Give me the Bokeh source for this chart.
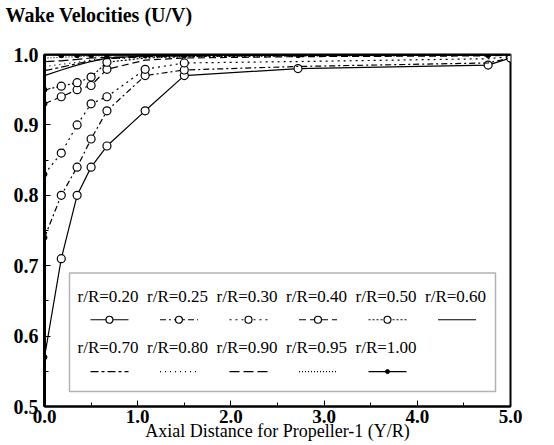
from bokeh.plotting import figure
from bokeh.models import Range1d, FixedTicker, BoxAnnotation, PrintfTickFormatter, LinearAxis
from bokeh.core.properties import value
from bokeh.embed import file_html
from bokeh.resources import INLINE

# ---- data ----
X = [0.0, 0.18, 0.35, 0.5, 0.67, 1.08, 1.5, 2.72, 4.76, 5.0]

u020 = [0.57, 0.71, 0.80, 0.84, 0.87, 0.92, 0.97, 0.98, 0.985, 0.995]
u025 = [0.74, 0.80, 0.84, 0.88, 0.92, 0.97, 0.978, 0.983, 0.988, 0.995]
u030 = [0.83, 0.86, 0.90, 0.93, 0.94, 0.979, 0.988, 0.99, 0.994, 0.997]
u040 = [0.93, 0.94, 0.95, 0.956, 0.979, 0.992, 0.995, 0.997, 0.998, 0.999]
u050 = [0.95, 0.955, 0.96, 0.968, 0.989, 0.995, 0.997, 0.998, 0.999, 1.0]
u060 = [0.97, 0.978, 0.985, 0.99, 0.995, 0.998, 0.999, 1.0, 1.0, 1.0]
u070 = [0.977, 0.982, 0.987, 0.991, 0.994, 0.997, 0.998, 0.999, 1.0, 1.0]
u080 = [0.983, 0.986, 0.989, 0.992, 0.994, 0.996, 0.997, 0.998, 0.999, 1.0]
u090 = [0.99, 0.991, 0.993, 0.995, 0.996, 0.997, 0.998, 0.999, 1.0, 1.0]
u095 = [0.995, 0.996, 0.997, 0.998, 0.998, 0.999, 0.999, 1.0, 1.0, 1.0]
u100 = [0.999, 0.999, 0.999, 0.999, 0.999, 0.999, 0.999, 0.999, 0.999, 0.999]

labels = ["r/R=0.20", "r/R=0.25", "r/R=0.30", "r/R=0.40", "r/R=0.50", "r/R=0.60",
          "r/R=0.70", "r/R=0.80", "r/R=0.90", "r/R=0.95", "r/R=1.00"]
values = [u020, u025, u030, u040, u050, u060, u070, u080, u090, u095, u100]

x_ticks = [0, 1, 2, 3, 4, 5]
y_ticks = [0.5, 0.6, 0.7, 0.8, 0.9, 1.0]

# ---- styles: (dash, marker kind, number of circle points) ----
styles = [
    ("solid", "circle", 10),
    ("6 3 2 3", "circle", 7),
    ("2 4", "circle", 7),
    ("7 4", "circle", 5),
    ("2 2", "circle", 5),
    ("solid", None, 0),
    ("8 3 3 3", None, 0),
    ("1 4", None, 0),
    ("10 4", None, 0),
    ("1 2", None, 0),
    ("solid", "dot", 9),
]

W, H = 540, 445
FL, FR, FT, FB = 44, 510, 53, 406  # frame in page px
p = figure(width=W, height=H, output_backend="svg", toolbar_location=None,
           x_range=Range1d(0, 5), y_range=Range1d(0.5, 1.0),
           min_border_left=FL, min_border_right=W - FR,
           min_border_top=FT, min_border_bottom=H - FB,
           title="Wake Velocities (U/V)")
p.background_fill_color = "white"
p.border_fill_color = "white"
p.outline_line_color = "black"
p.outline_line_width = 2
p.xgrid.visible = False
p.ygrid.visible = False

xa = p.below[0]
ya = p.left[0]

# invisible spacer axis above the frame, so the title sits higher
spacer = LinearAxis(ticker=FixedTicker(ticks=[], minor_ticks=[]), axis_label="\u00a0",
                    axis_label_text_font_size="22px", axis_label_standoff=0,
                    major_tick_out=0, major_tick_in=0, minor_tick_out=0, minor_tick_in=0,
                    major_label_standoff=0, axis_line_color=None,
                    major_tick_line_color=None, minor_tick_line_color=None)
p.add_layout(spacer, "above")

p.title.align = "left"
p.title.offset = -39
p.title.standoff = 2
p.title.text_font = "Liberation Serif"
p.title.text_font_style = "bold"
p.title.text_font_size = "20px"
p.title.text_color = "black"

for ax, ticks, minor in ((xa, x_ticks, [t + 0.5 for t in x_ticks[:-1]]),
                         (ya, y_ticks, [t + 0.05 for t in y_ticks[:-1]])):
    ax.ticker = FixedTicker(ticks=ticks, minor_ticks=minor)
    ax.formatter = PrintfTickFormatter(format="%.1f")
    ax.major_tick_in = 6
    ax.major_tick_out = 0
    ax.minor_tick_in = 4
    ax.minor_tick_out = 0
    ax.major_tick_line_color = "black"
    ax.minor_tick_line_color = "black"
    ax.axis_line_color = "black"
    ax.major_label_text_font = "Liberation Serif"
    ax.major_label_text_font_style = "bold"
    ax.major_label_text_font_size = "20px"
    ax.major_label_text_color = "black"

xa.major_label_text_font_size = "19px"
ya.axis_line_width = 3
xa.axis_line_width = 2
ya.major_label_standoff = 6
xa.major_label_standoff = 3
xa.axis_label = "Axial Distance for Propeller-1 (Y/R)"
xa.axis_label_text_font = "Liberation Serif"
xa.axis_label_text_font_style = "normal"
xa.axis_label_text_font_size = "18px"
xa.axis_label_text_color = "black"
xa.axis_label_standoff = -5

# ---- data lines ----
for vals, (dash, mk, n) in zip(values, styles):
    p.line(X, vals, line_color="black", line_width=1.2, line_dash=dash)
    if mk == "circle":
        p.scatter(X[1:n], vals[1:n], marker="circle", size=8, fill_color="white",
                  line_color="black", line_width=1.2)
        p.scatter(X[:1], vals[:1], marker="circle", size=5, fill_color="black", line_color="black")
    elif mk == "dot":
        p.scatter(X[1:n], vals[1:n], marker="circle", size=5, fill_color="black", line_color="black")

# ---- legend (drawn manually: label above sample) ----
def xd(px):
    return (px - FL) / (FR - FL) * 5.0

def yd(py):
    return 0.5 + (FB - py) / (FB - FT) * 0.5

p.add_layout(BoxAnnotation(left=xd(69), right=xd(495), top=yd(272), bottom=yd(391),
                           fill_alpha=0, line_color="black", line_width=1.5))
col_left, col_pitch, text_w = 77, 69.5, 64
row_text = [296, 347]
row_samp = [319, 371]
for i, (lab, (dash, mk, n)) in enumerate(zip(labels, styles)):
    r, c = divmod(i, 6)
    lx = col_left + c * col_pitch
    cx = lx + text_w / 2
    p.text([xd(lx)], [yd(row_text[r])], text=[lab], text_font=value("Liberation Serif"),
           text_font_size="17px", text_baseline="middle", text_align="left", text_color="black")
    p.line([xd(cx - 19), xd(cx + 19)], [yd(row_samp[r])] * 2, line_color="black",
           line_width=1.2, line_dash=dash)
    if mk == "circle":
        p.scatter([xd(cx)], [yd(row_samp[r])], marker="circle", size=7, fill_color="white",
                  line_color="black", line_width=1.2)
    elif mk == "dot":
        p.scatter([xd(cx)], [yd(row_samp[r])], marker="circle", size=4, fill_color="black",
                  line_color="black")

open("out.html", "w").write(file_html(p, INLINE))
